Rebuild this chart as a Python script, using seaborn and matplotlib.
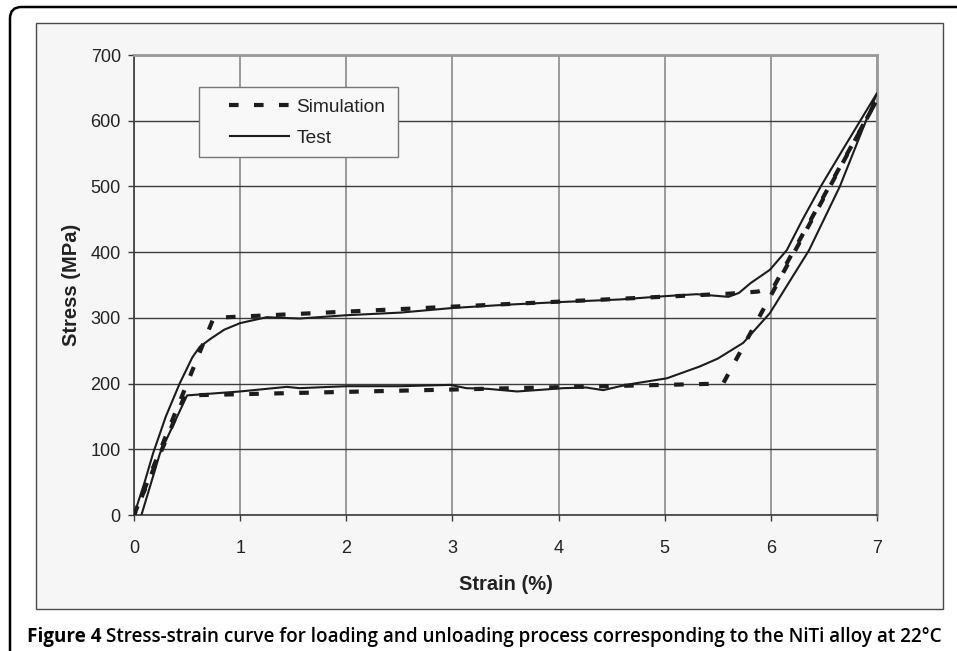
import numpy as np
import pandas as pd
import seaborn as sns
import matplotlib.pyplot as plt
from matplotlib.patches import FancyBboxPatch, Rectangle

# test curve (loading then unloading)
test_strain = [0, 0.1, 0.18, 0.3, 0.43, 0.55, 0.62, 0.72, 0.85, 1.0, 1.25, 1.56, 2.0, 2.51,
               3.0, 3.51, 4.01, 4.58, 5.0, 5.3, 5.6, 5.7, 5.81, 5.99, 6.15, 6.3, 6.47, 6.7, 7.0,
               6.65, 6.36, 5.99, 5.74, 5.5, 5.33, 5.02, 4.71, 4.58, 4.42, 4.26, 4.04, 3.79,
               3.61, 3.33, 3.13, 2.98, 2.51, 2.0, 1.56, 1.44, 1.0, 0.5, 0.245, 0.07]
test_stress = [0, 50, 94, 150, 200, 240, 256, 268, 282, 292, 301, 299, 304, 308,
               315, 320, 324, 328, 333, 336, 332, 338, 353, 373, 403, 450, 500, 562, 642,
               500, 403, 307, 262, 238, 226, 208, 200, 196, 190, 194, 193, 190,
               188, 192, 193, 198, 196, 196, 193, 195, 188, 182, 94, 0]

# simulation curve (loading then unloading)
sim_strain = [0, 0.75, 5.63, 5.88, 6.03, 7.0, 5.55, 0.48, 0]
sim_stress = [0, 300, 337, 340, 348, 632, 200, 182, 0]

x_ticks = [0, 1, 2, 3, 4, 5, 6, 7]
y_ticks = [0, 100, 200, 300, 400, 500, 600, 700]

caption_head = "Figure 4"
caption_rest = "Stress-strain curve for loading and unloading process corresponding to the NiTi alloy at 22°C"

test_df = pd.DataFrame({"Strain": test_strain, "Stress": test_stress})
sim_df = pd.DataFrame({"Strain": sim_strain, "Stress": sim_stress})

sns.set_theme(style="white")
plt.rcParams["font.family"] = ["Liberation Sans", "DejaVu Sans"]

bg = "#f6f6f6"
fig = plt.figure(figsize=(9.57, 6.51), dpi=100, facecolor="white")

# outer rounded frame and inner chart panel (behind the axes)
fig.patches.append(FancyBboxPatch((10 / 957, -0.2), 1.2, (651 - 7) / 651 + 0.2,
                                  boxstyle="round,pad=0,rounding_size=0.012",
                                  mutation_aspect=957 / 651, transform=fig.transFigure,
                                  facecolor="white", edgecolor="black", lw=1.8, zorder=-2))
fig.patches.append(Rectangle((36 / 957, 42 / 651), 907 / 957, 586 / 651,
                             transform=fig.transFigure, facecolor=bg,
                             edgecolor="#4a4a4a", lw=1.0, zorder=-1))

ax = fig.add_axes([134 / 957, 136 / 651, 743 / 957, 460 / 651])
ax.set_facecolor("#f8f8f8")

sns.lineplot(data=sim_df, x="Strain", y="Stress", sort=False, estimator=None, ax=ax,
             color="#1c1c1c", lw=3.0, linestyle=(0, (2.3, 3.7)), label="Simulation",
             zorder=3, legend=False)
sns.lineplot(data=test_df, x="Strain", y="Stress", sort=False, estimator=None, ax=ax,
             color="#1c1c1c", lw=1.5, label="Test", zorder=3, legend=False)
for ln in ax.get_lines():
    ln.set_solid_capstyle("butt")
    ln.set_dash_capstyle("butt")

ax.set_xlim(0, 7)
ax.set_ylim(0, 700)
ax.set_xticks(x_ticks)
ax.set_yticks(y_ticks)
ax.yaxis.grid(True, color="#3c3c3c", lw=1.0)
ax.xaxis.grid(True, color="#8a8a8a", lw=1.2)
ax.set_axisbelow(True)
for s in ["top", "right"]:
    ax.spines[s].set_color("#999999")
    ax.spines[s].set_linewidth(2.0)
for s in ["left", "bottom"]:
    ax.spines[s].set_color("#3a3a3a")
    ax.spines[s].set_linewidth(1.2)

ax.tick_params(axis="y", direction="out", length=4.5, width=1, color="#3a3a3a",
               pad=5, labelsize=13, labelcolor="#222222", left=True)
ax.tick_params(axis="x", direction="out", length=4, width=1, color="#3a3a3a",
               pad=14, labelsize=13, labelcolor="#222222", bottom=True)

ax.set_xlabel("Strain (%)", fontsize=14.5, fontweight="bold", color="#222222", labelpad=13)
ax.set_ylabel("Stress (MPa)", fontsize=14.5, fontweight="bold", color="#222222", labelpad=7)

# legend box
ax.add_patch(Rectangle((65 / 743, 358 / 460), 199 / 743, 70 / 460, transform=ax.transAxes,
                       facecolor="#f8f8f8", edgecolor="#777777", lw=1.0, zorder=4))
leg = ax.legend(loc="upper left", bbox_to_anchor=(95 / 743, 416.5 / 460), frameon=False,
                borderpad=0, borderaxespad=0, handlelength=3.2, handletextpad=0.32,
                labelspacing=0.7, fontsize=13.8)
leg.set_zorder(5)
for t in leg.get_texts():
    t.set_color("#222222")

# caption: bold head, then the rest right after it, sized to span the frame
cap_font = ["Open Sans", "DejaVu Sans"]
fs = 14
head = fig.text(27 / 957, 9 / 651, caption_head, fontsize=fs, fontweight="bold",
                family=cap_font, va="baseline", color="black")
rest = fig.text(0, 9 / 651, caption_rest, fontsize=fs, fontweight="semibold",
                family=cap_font, va="baseline", color="black")
fig.canvas.draw()
w_head = head.get_window_extent().width
w_rest = rest.get_window_extent().width
scale = (950 - 27) / (w_head + w_rest + 5)
fs = fs * scale
head.set_fontsize(fs)
rest.set_fontsize(fs)
rest.set_x((27 + w_head * scale + 5 * scale) / 957)

fig.savefig("out.png", dpi=100, facecolor="white")
